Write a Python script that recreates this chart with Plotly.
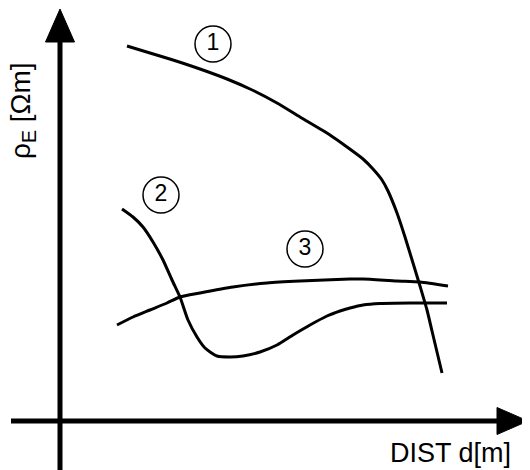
import plotly.graph_objects as go

# schematic curves, x = DIST, y = rho_E (arbitrary units, origin at axis crossing)
c1_x = [67, 90, 113, 140, 167, 190, 217, 240, 270, 287, 303, 313, 322, 328, 337, 345, 353, 360, 367, 372, 377, 382]
c1_y = [375, 368, 361, 352, 342, 332, 318, 304, 286, 274, 262, 252, 241, 230, 208, 184, 158, 135, 111, 90, 69, 48]

c2_x = [62, 73, 83, 93, 103, 112, 120, 128, 137, 145, 157, 170, 183, 200, 217, 233, 250, 267, 280, 290, 303, 320, 350, 387]
c2_y = [212, 204, 194, 179, 161, 141, 124, 101, 84, 73, 65, 64, 65, 69, 76, 86, 96, 105, 110, 113, 116, 117.5, 118, 118]

c3_x = [57, 73, 90, 107, 120, 140, 173, 207, 240, 290, 303, 337, 360, 388]
c3_y = [96, 104, 111, 118, 124, 128, 134, 138, 140, 142, 142, 140, 139, 135]

label_x = [153, 101, 245]
label_y = [377, 226, 172]
label_text = ["1", "2", "3"]

fig = go.Figure()

for xs, ys in [(c1_x, c1_y), (c2_x, c2_y), (c3_x, c3_y)]:
    fig.add_trace(go.Scatter(x=xs, y=ys, mode="lines",
                             line=dict(color="black", width=3, shape="spline", smoothing=0.6),
                             hoverinfo="skip"))

# circled numbers
fig.add_trace(go.Scatter(x=label_x, y=label_y, mode="markers+text", text=label_text,
                         textposition="middle center",
                         textfont=dict(family="Liberation Sans", size=23, color="black"),
                         marker=dict(symbol="circle-open", size=36, color="black",
                                     line=dict(width=1.5, color="black")),
                         hoverinfo="skip"))

# axes with arrows
black = "black"
fig.add_shape(type="line", x0=0, x1=0, y0=-49, y1=380, line=dict(color=black, width=5))
fig.add_shape(type="line", x0=-49, x1=438, y0=0, y1=0, line=dict(color=black, width=5))
fig.add_shape(type="path", path="M -14.5 379 L 0 412 L 14.5 379 Z",
              fillcolor=black, line=dict(color=black, width=1))
fig.add_shape(type="path", path="M 437 -13.5 L 468 0 L 437 13.5 Z",
              fillcolor=black, line=dict(color=black, width=1))

fig.add_annotation(x=-38, y=310, text="ρ<sub>E</sub> [Ωm]", textangle=-90, showarrow=False,
                   font=dict(family="Liberation Sans", size=28, color="black"))
fig.add_annotation(x=390, y=-32, text="DIST d[m]", showarrow=False,
                   font=dict(family="Liberation Sans", size=27, color="black"))

# page body keeps an 8px margin, so the plot is 8px smaller and ranges start 8px in
fig.update_layout(
    width=522, height=462,
    margin=dict(l=0, r=0, t=0, b=0),
    paper_bgcolor="white", plot_bgcolor="white",
    showlegend=False,
    xaxis=dict(range=[-52, 470], visible=False, fixedrange=True),
    yaxis=dict(range=[-49, 413], visible=False, fixedrange=True),
)

fig.write_html("out.html")
